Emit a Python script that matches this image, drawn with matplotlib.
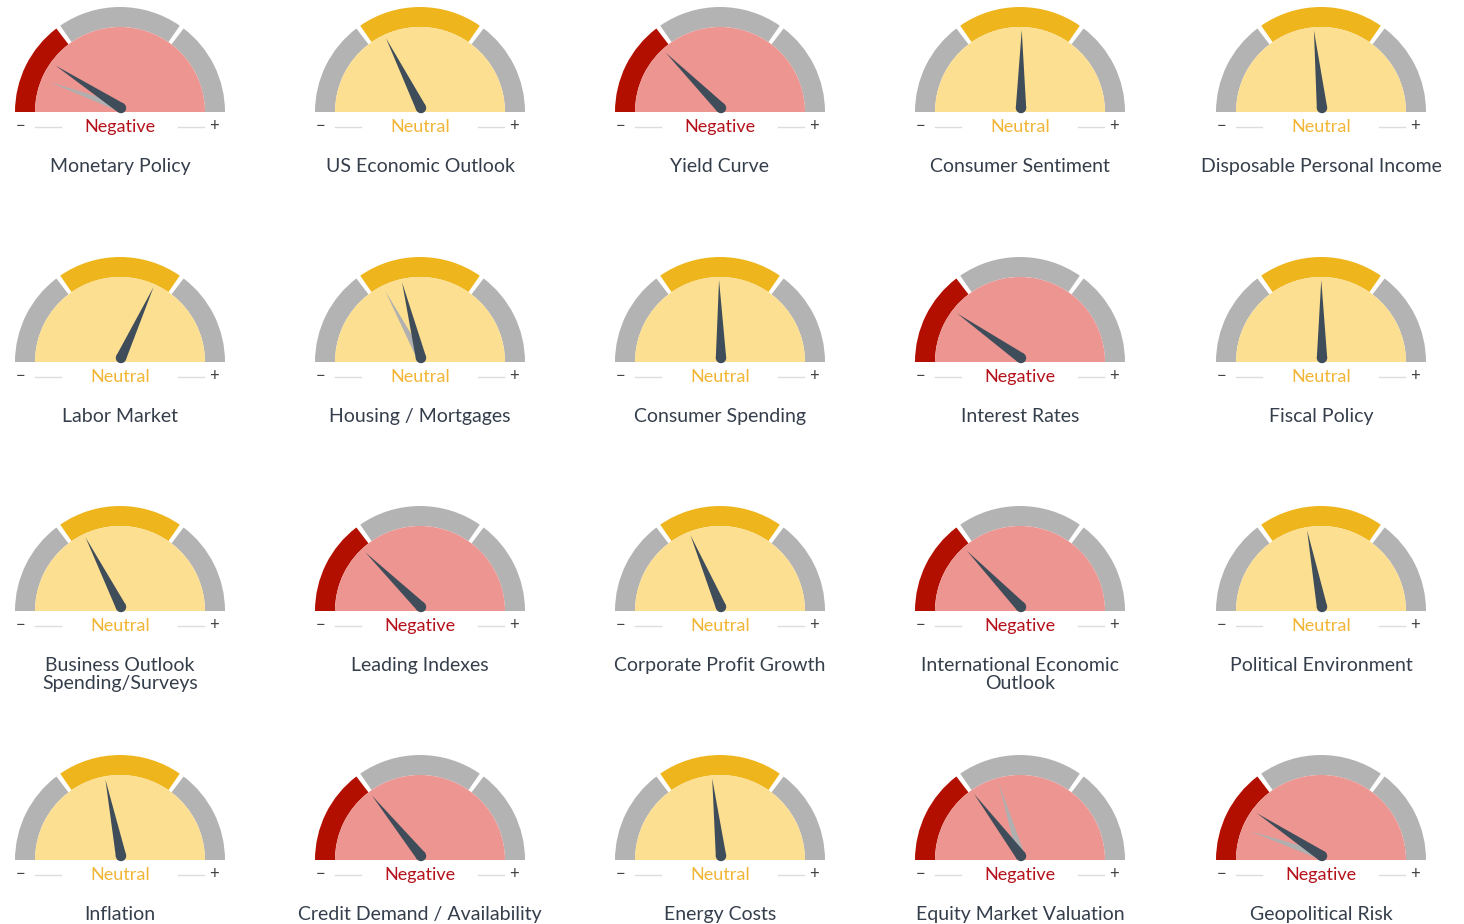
import numpy as np
import matplotlib
matplotlib.use('Agg')
import matplotlib.pyplot as plt
from matplotlib.patches import Wedge, Polygon, Circle

# dial readings: 0 = far left (-), 100 = far right (+)
titles = ["Monetary Policy", "US Economic Outlook", "Yield Curve", "Consumer Sentiment",
          "Disposable Personal Income",
          "Labor Market", "Housing / Mortgages", "Consumer Spending", "Interest Rates", "Fiscal Policy",
          "Business Outlook\nSpending/Surveys", "Leading Indexes", "Corporate Profit Growth",
          "International Economic\nOutlook", "Political Environment",
          "Inflation", "Credit Demand / Availability", "Energy Costs", "Equity Market Valuation",
          "Geopolitical Risk"]
status = ["Negative", "Neutral", "Negative", "Neutral", "Neutral",
          "Neutral", "Neutral", "Neutral", "Negative", "Neutral",
          "Neutral", "Negative", "Neutral", "Negative", "Neutral",
          "Neutral", "Negative", "Neutral", "Negative", "Negative"]
reading = [18.3, 35.2, 25.0, 50.3, 46.7,
           63.7, 42.2, 49.2, 19.4, 49.7,
           35.0, 24.7, 37.2, 25.6, 43.9,
           43.6, 28.3, 46.4, 29.4, 18.5]
previous = [11.1, None, None, None, None,
            None, 34.4, None, None, None,
            None, None, None, None, None,
            None, None, None, 40.6, 10.6]

W, H = 1464, 924
col_x = [120, 420, 720, 1020, 1321]
row_base = [112, 362, 611, 860]

band_col = {"Negative": ["#b30f00", "#b3b3b3", "#b3b3b3"],
            "Neutral": ["#b3b3b3", "#efb51d", "#b3b3b3"]}
face_col = {"Negative": "#ec9591", "Neutral": "#fddf91"}
text_col = {"Negative": "#b5121b", "Neutral": "#f2b535"}
needle_col = "#3e4d59"
ghost_col = "#b0b0b0"
title_col = "#353e4b"

R_OUT, R_IN = 105, 85
segs = [(126, 180), (54, 126), (0, 54)]
gap = 1.3

fig = plt.figure(figsize=(W / 100, H / 100), dpi=100)
ax = fig.add_axes([0, 0, 1, 1])
ax.set_xlim(0, W)
ax.set_ylim(0, H)
ax.set_aspect('equal')
ax.axis('off')


def needle(cx, cy, val, color, length, half_w, z):
    th = np.radians(180 - val * 1.8)
    tip = (cx + length * np.cos(th), cy + length * np.sin(th))
    px, py = -np.sin(th) * half_w, np.cos(th) * half_w
    ax.add_patch(Polygon([(cx + px, cy + py), tip, (cx - px, cy - py)],
                         closed=True, fc=color, ec='none', zorder=z))
    ax.add_patch(Circle((cx, cy), half_w, fc=color, ec='none', zorder=z))


for i, name in enumerate(titles):
    cx = col_x[i % 5]
    base = H - row_base[i // 5]
    st = status[i]

    for (a0, a1), c in zip(segs, band_col[st]):
        lo = a0 + gap if a0 > 0 else a0
        hi = a1 - gap if a1 < 180 else a1
        ax.add_patch(Wedge((cx, base), R_OUT, lo, hi, width=R_OUT - R_IN, fc=c, ec='none'))
    ax.add_patch(Wedge((cx, base), R_IN, 0, 180, fc=face_col[st], ec='none'))

    piv = (cx + 1, base + 4)
    if previous[i] is not None:
        needle(piv[0], piv[1], previous[i], ghost_col, 76, 4.0, 3)
    needle(piv[0], piv[1], reading[i], needle_col, 78, 5.2, 4)

    ty = base - 15
    ax.text(cx - 99, ty + 1, "−", ha='center', va='center', fontsize=12, color="#444444", family='Lato')
    ax.text(cx + 94, ty + 1, "+", ha='center', va='center', fontsize=12, color="#444444", family='Lato')
    ax.plot([cx - 85, cx - 59], [ty, ty], color="#dcdcdc", lw=1)
    ax.plot([cx + 58, cx + 84], [ty, ty], color="#dcdcdc", lw=1)
    ax.text(cx, ty, st, ha='center', va='center', fontsize=13, color=text_col[st], family='Lato')

    ax.text(cx, base - 46, name, ha='center', va='top', fontsize=14, color=title_col,
            family='Lato', linespacing=1.1)

fig.savefig("out.png", dpi=100, facecolor='white')
